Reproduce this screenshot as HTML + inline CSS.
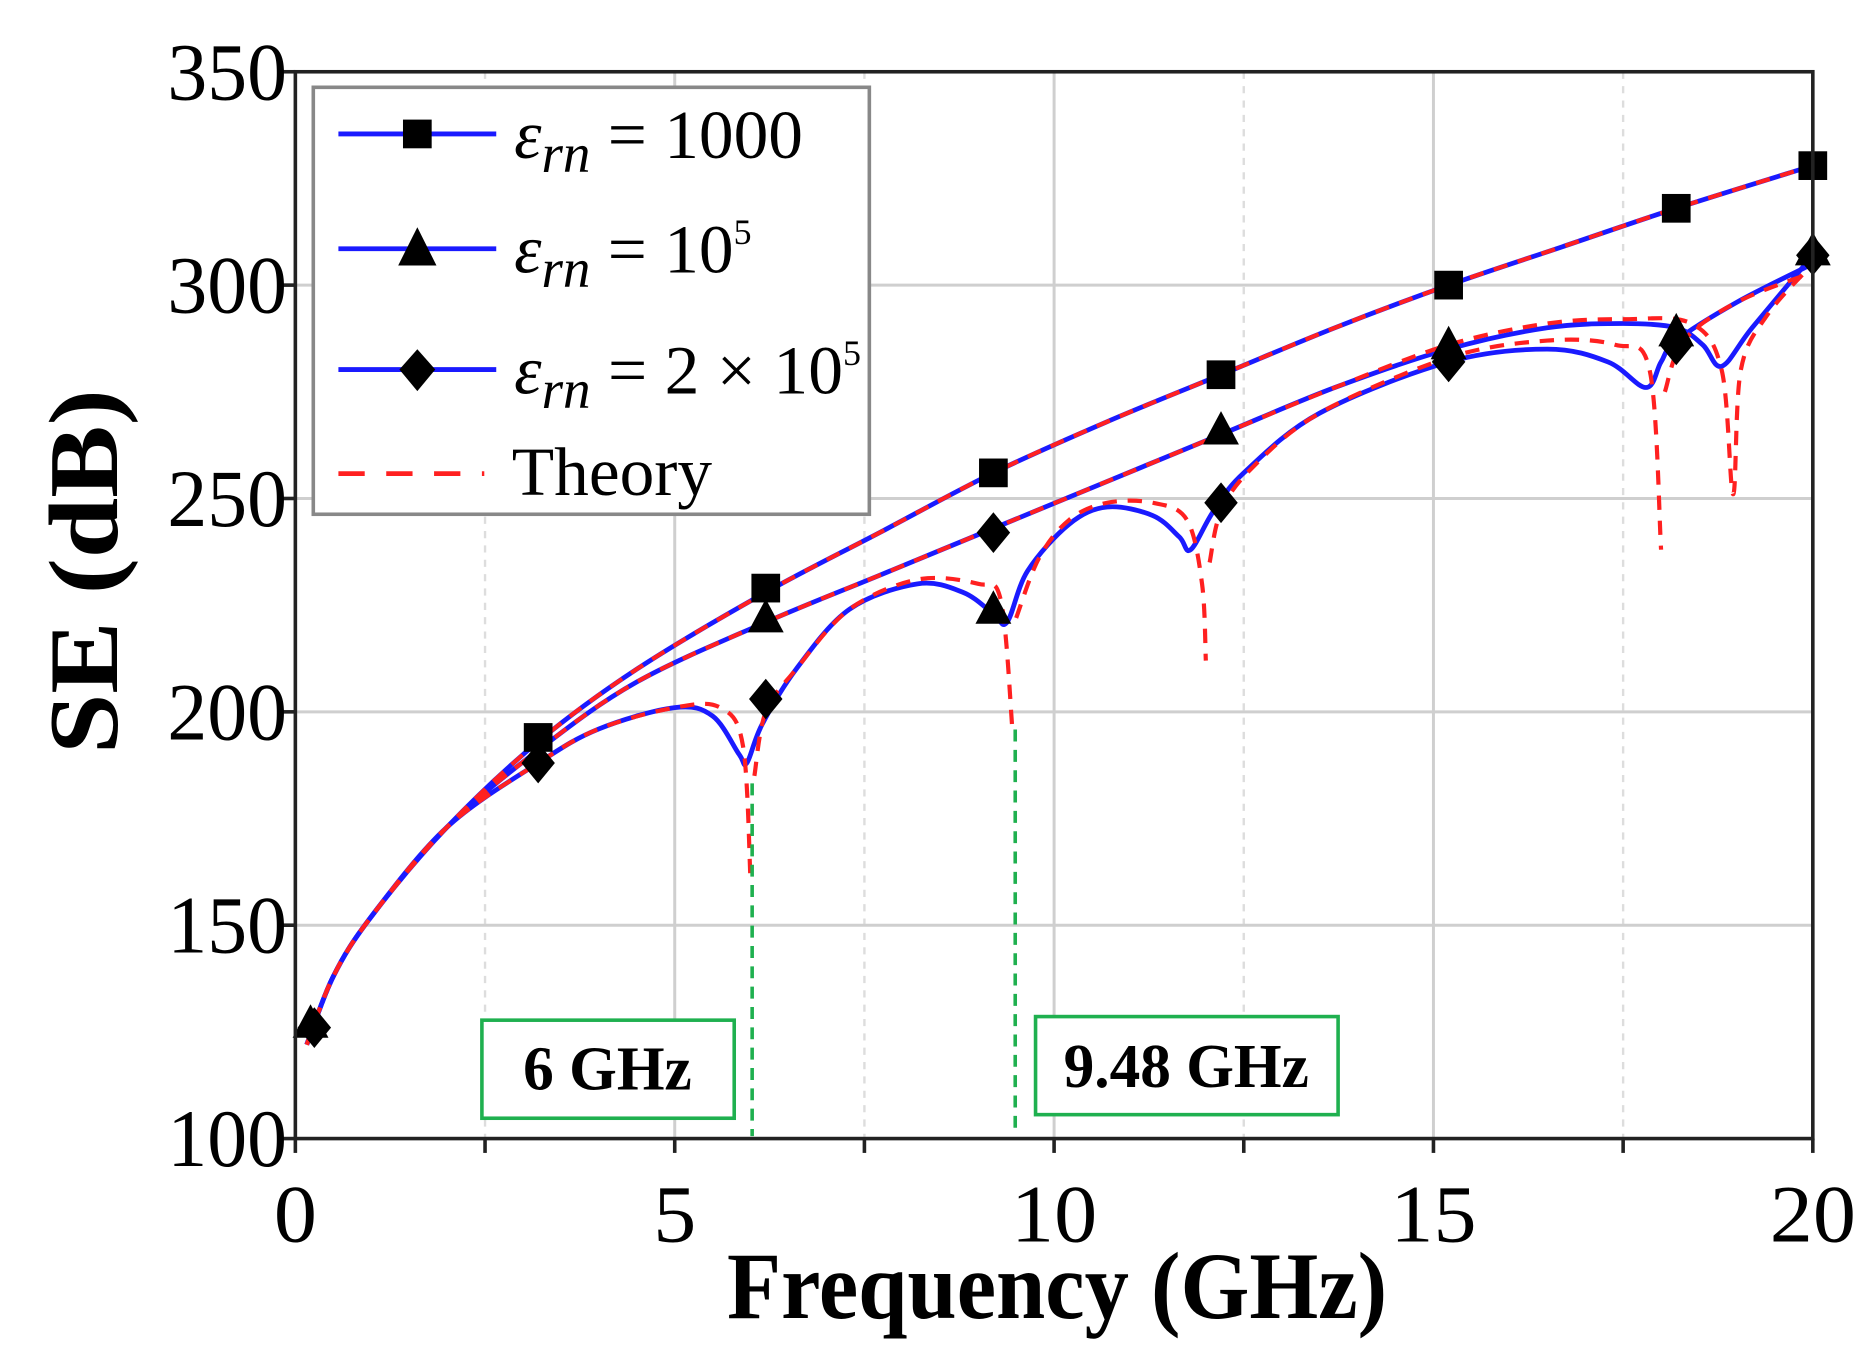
<!DOCTYPE html>
<html><head><meta charset="utf-8"><style>
html,body{margin:0;padding:0;background:#fff;}
svg{display:block;}
text{font-family:"Liberation Serif",serif;}
</style></head><body>
<svg id="s" width="1875" height="1367" viewBox="0 0 1568 1143" preserveAspectRatio="none" xmlns="http://www.w3.org/2000/svg">
<rect width="1568" height="1143" fill="#fff"/>
<g id="grid"></g>
<g id="curves"></g>
<g id="marks"></g>
<line x1="629" y1="655" x2="629" y2="950" stroke="#1fb04f" stroke-width="3" stroke-dasharray="10,7"/>
<line x1="849" y1="610" x2="849" y2="950" stroke="#1fb04f" stroke-width="3" stroke-dasharray="10,7"/>
<rect x="403" y="853" width="211" height="82" fill="#fff" stroke="#1fb04f" stroke-width="3"/>
<text x="508" y="911" font-size="52" font-weight="bold" text-anchor="middle" textLength="141" lengthAdjust="spacingAndGlyphs">6 GHz</text>
<rect x="866" y="850" width="253" height="82" fill="#fff" stroke="#1fb04f" stroke-width="3"/>
<text x="992" y="909" font-size="52" font-weight="bold" text-anchor="middle" textLength="205" lengthAdjust="spacingAndGlyphs">9.48 GHz</text>
<rect x="247" y="60" width="1269" height="892" fill="none" stroke="#222" stroke-width="3"/>
<g id="ticks"></g>
<rect x="262" y="73" width="465" height="357" fill="#fff" stroke="#888" stroke-width="3"/>
<line x1="283" y1="112" x2="415" y2="112" stroke="#1a1aff" stroke-width="4"/>
<rect x="337" y="100" width="24" height="24" fill="#000"/>
<line x1="283" y1="208" x2="415" y2="208" stroke="#1a1aff" stroke-width="4"/>
<polygon points="349,190 365,222 333,222" fill="#000"/>
<line x1="283" y1="309" x2="415" y2="309" stroke="#1a1aff" stroke-width="4"/>
<polygon points="349,292 364,309 349,327 334,309" fill="#000"/>
<line x1="283" y1="396" x2="405" y2="396" stroke="#ff2020" stroke-width="4" stroke-dasharray="22,18"/>
<text x="430" y="132" font-size="58"><tspan font-style="italic">ε</tspan><tspan font-style="italic" font-size="46" dy="12">rn</tspan><tspan dy="-12"> = 1000</tspan></text>
<text x="430" y="228" font-size="58"><tspan font-style="italic">ε</tspan><tspan font-style="italic" font-size="46" dy="12">rn</tspan><tspan dy="-12"> = 10</tspan><tspan font-size="30" dy="-24">5</tspan></text>
<text x="430" y="329" font-size="58" textLength="290" lengthAdjust="spacingAndGlyphs"><tspan font-style="italic">ε</tspan><tspan font-style="italic" font-size="46" dy="12">rn</tspan><tspan dy="-12"> = 2 × 10</tspan><tspan font-size="30" dy="-24">5</tspan></text>
<text x="428" y="414" font-size="58">Theory</text>
<text x="884" y="1102" font-size="80" font-weight="bold" text-anchor="middle" textLength="552" lengthAdjust="spacingAndGlyphs">Frequency (GHz)</text>
<text transform="translate(98,478) rotate(-90)" font-size="82" font-weight="bold" text-anchor="middle" textLength="305" lengthAdjust="spacingAndGlyphs">SE (dB)</text>
</svg>
<script>
var NS="http://www.w3.org/2000/svg";
function X(f){return 247+63.45*f;}
function Y(s){return 952-3.568*(s-100);}
function el(p,t,a){var e=document.createElementNS(NS,t);for(var k in a)e.setAttribute(k,a[k]);document.getElementById(p).appendChild(e);return e;}
[2.5,7.5,12.5,17.5].forEach(function(f){el("grid","line",{x1:X(f),y1:60,x2:X(f),y2:952,stroke:"#ddd","stroke-width":2,"stroke-dasharray":"6,6"});});
[5,10,15].forEach(function(f){el("grid","line",{x1:X(f),y1:60,x2:X(f),y2:952,stroke:"#cfcfcf","stroke-width":2.5});});
[150,200,250,300].forEach(function(s){el("grid","line",{x1:247,y1:Y(s),x2:1516,y2:Y(s),stroke:"#cfcfcf","stroke-width":2.5});});
for(var i=0;i<=8;i++){var f=i*2.5;el("ticks","line",{x1:X(f),y1:952,x2:X(f),y2:964,stroke:"#222","stroke-width":3});}
[0,5,10,15,20].forEach(function(f){var t=el("ticks","text",{x:X(f),y:1038,"font-size":68,"text-anchor":"middle",textLength:(f>=10?72:36),lengthAdjust:"spacingAndGlyphs"});t.textContent=f;});
[100,150,200,250,300,350].forEach(function(s){el("ticks","line",{x1:235,y1:Y(s),x2:247,y2:Y(s),stroke:"#222","stroke-width":3});var t=el("ticks","text",{x:240,y:Y(s)+23,"font-size":68,"text-anchor":"end",textLength:100,lengthAdjust:"spacingAndGlyphs"});t.textContent=s;});
function path(pts){var p=pts.map(function(q){return [X(q[0]),Y(q[1])];});var d="M"+p[0][0]+","+p[0][1];
for(var i=0;i<p.length-1;i++){var p0=p[i-1]||p[i],p1=p[i],p2=p[i+1],p3=p[i+2]||p2;
var c1=[p1[0]+(p2[0]-p0[0])/6,p1[1]+(p2[1]-p0[1])/6],c2=[p2[0]-(p3[0]-p1[0])/6,p2[1]-(p3[1]-p1[1])/6];
d+=" C"+c1[0]+","+c1[1]+" "+c2[0]+","+c2[1]+" "+p2[0]+","+p2[1];}return d;}
var base=[[0.15,122],[0.5,138],[1,152],[2,173]];
var U=base.concat([[3.2,193],[4.5,210],[6.2,228],[7.7,242],[9.2,256],[10.7,268],[12.2,279],[13.7,290],[15.2,300],[16.7,309],[18.2,318],[20,328]]);
var A=base.concat([[3.2,191],[4.5,207],[6.2,221],[7.7,232],[9.2,243],[10.7,254],[12.2,265],[13.7,276],[15.2,285],[16.5,290],[17.5,291],[18.2,290],[18.55,286],[18.8,281],[19.2,290],[20,307]]);
var At=base.concat([[3.2,191],[4.5,207],[6.2,221],[7.7,232],[9.2,243],[10.7,254],[12.2,265],[13.7,276],[15.2,286],[16.5,291],[17.5,292],[18.4,291],[18.8,280],[18.95,251],[19.05,280],[19.4,293],[20,305]]);
var B=base.concat([[3.2,188],[4,196],[5,201],[5.5,199],[5.85,190],[5.95,188],[6.15,197],[6.6,210],[7.3,224],[8.2,230],[8.8,228],[9.2,223],[9.38,221],[9.65,233],[10.2,244],[10.7,248],[11.3,246],[11.65,241],[11.8,238],[12.1,247],[12.5,256],[13.5,270],[15.2,282],[16.5,285],[17.3,282],[17.8,276],[18.0,282],[18.2,287],[19,296],[20,305]]);
var Bt1=base.concat([[3.2,188],[4,196],[5,201],[5.6,201],[5.9,192],[6.0,160]]);
var Bt2=[[6.05,185],[6.2,200],[6.6,210],[7.3,224],[8.2,231],[9.0,230],[9.3,226],[9.45,196]];
var Bt3=[[9.5,222],[9.8,236],[10.2,245],[10.7,249],[11.3,249],[11.75,245],[11.95,230],[12.0,212]];
var Bt4=[[12.05,235],[12.2,247],[12.6,257],[13.5,270],[15.2,283],[16.5,287],[17.4,286],[17.85,280],[18.0,238]];
var Bt5=[[18.05,275],[18.3,287],[19,296],[20,303]];
[U,A,B].forEach(function(c){el("curves","path",{d:path(c),fill:"none",stroke:"#1a1aff","stroke-width":4});});
[U,At,Bt1,Bt2,Bt3,Bt4,Bt5].forEach(function(c){el("curves","path",{d:path(c),fill:"none",stroke:"#ff2020","stroke-width":3.5,"stroke-dasharray":"12,9"});});
function sq(f,s){el("marks","rect",{x:X(f)-12,y:Y(s)-12,width:24,height:24,fill:"#000"});}
function tri(f,s){var x=X(f),y=Y(s);el("marks","polygon",{points:x+","+(y-16)+" "+(x+15)+","+(y+12)+" "+(x-15)+","+(y+12),fill:"#000"});}
function dia(f,s){var x=X(f),y=Y(s);el("marks","polygon",{points:x+","+(y-17)+" "+(x+14)+","+y+" "+x+","+(y+17)+" "+(x-14)+","+y,fill:"#000"});}
[[3.2,194],[6.2,229],[9.2,256],[12.2,279],[15.2,300],[18.2,318],[20,328]].forEach(function(p){sq(p[0],p[1]);});
[[6.2,222],[9.2,224],[12.2,266],[15.2,286],[18.2,289],[20,308],[0.2,127]].forEach(function(p){tri(p[0],p[1]);});
[[3.2,188],[6.2,203],[9.2,242],[12.2,249],[15.2,282],[18.2,286],[20,307],[0.25,126]].forEach(function(p){dia(p[0],p[1]);});
</script>
</body></html>
